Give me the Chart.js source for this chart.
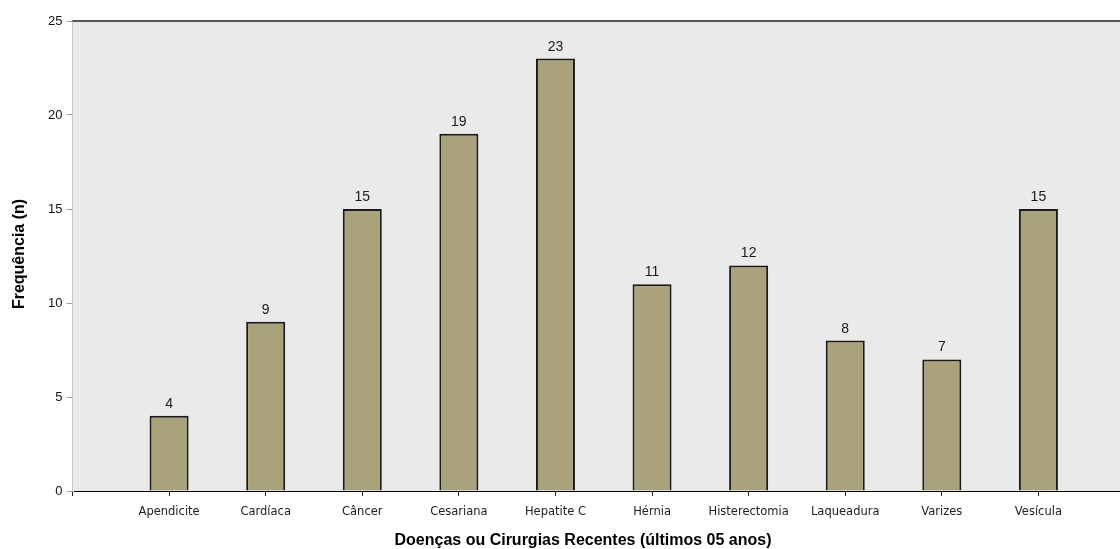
<!DOCTYPE html>
<html>
<head>
<meta charset="utf-8">
<script src="https://cdn.jsdelivr.net/npm/chart.js@4/dist/chart.umd.min.js"></script>
<style>
  html, body { margin: 0; padding: 0; background: #ffffff; overflow: hidden; }
  #wrap { position: relative; width: 1144px; height: 549px; }
</style>
</head>
<body>
<div id="wrap"><canvas id="chart" width="1144" height="549"></canvas></div>
<script>
// Doenças ou cirurgias recentes e suas frequências
const categories = ['Apendicite', 'Cardíaca', 'Câncer', 'Cesariana', 'Hepatite C',
                    'Hérnia', 'Histerectomia', 'Laqueadura', 'Varizes', 'Vesícula'];
const frequencies = [4, 9, 15, 19, 23, 11, 12, 8, 7, 15];
const yTicks = [0, 5, 10, 15, 20, 25];
const xTitle = 'Doenças ou Cirurgias Recentes (últimos 05 anos)';
const yTitle = 'Frequência (n)';

// blank slots at both ends keep each bar one full step away from the axes
const labels = [''].concat(categories, ['']);
const values = [null].concat(frequencies, [null]);

const plotFrame = {
  id: 'plotFrame',
  beforeDatasetsDraw(chart) {
    const { ctx, chartArea: a } = chart;
    ctx.save();
    ctx.fillStyle = '#eaeaea';
    ctx.fillRect(a.left, a.top, a.right - a.left, a.bottom - a.top);
    ctx.strokeStyle = '#555555';
    ctx.lineWidth = 2;
    ctx.beginPath();
    ctx.moveTo(a.left, a.top);
    ctx.lineTo(a.right, a.top);
    ctx.stroke();
    ctx.restore();
  },
  afterDraw(chart) {
    const { ctx } = chart;
    ctx.save();
    ctx.fillStyle = '#000000';
    ctx.font = 'bold 16px "Liberation Sans", Arial, sans-serif';
    ctx.textAlign = 'center';
    ctx.textBaseline = 'middle';
    ctx.fillText(xTitle, 583, 541);
    ctx.translate(20, 254);
    ctx.rotate(-Math.PI / 2);
    ctx.fillText(yTitle, 0, 0);
    ctx.restore();
  }
};

const valueLabels = {
  id: 'valueLabels',
  afterDatasetsDraw(chart) {
    const { ctx } = chart;
    const meta = chart.getDatasetMeta(0);
    ctx.save();
    ctx.fillStyle = '#1a1a1a';
    ctx.font = '14px "Liberation Sans", Arial, sans-serif';
    ctx.textAlign = 'center';
    ctx.textBaseline = 'alphabetic';
    meta.data.forEach((bar, i) => {
      const v = values[i];
      if (v === null) return;
      ctx.fillText(String(v), bar.x, bar.y - 8);
    });
    ctx.restore();
  }
};

new Chart(document.getElementById('chart'), {
  type: 'bar',
  data: {
    labels: labels,
    datasets: [{
      data: values,
      backgroundColor: '#a9a27a',
      borderColor: '#1a1a1a',
      borderWidth: 2,
      borderSkipped: 'bottom',
      barPercentage: 0.404,
      categoryPercentage: 1
    }]
  },
  options: {
    responsive: false,
    animation: false,
    layout: { padding: { top: 21, right: 1, left: 0, bottom: 0 } },
    plugins: {
      legend: { display: false },
      title: { display: false },
      tooltip: { enabled: false }
    },
    scales: {
      x: {
        offset: false,
        grid: {
          display: true,
          drawOnChartArea: false,
          drawTicks: true,
          tickLength: 5,
          color: '#222222',
          offset: false
        },
        border: { display: true, color: '#000000', width: 1 },
        ticks: {
          color: '#222222',
          font: { family: '"DejaVu Sans", Tahoma, sans-serif', size: 11.5 },
          padding: 9,
          maxRotation: 0,
          autoSkip: false
        },
        afterFit(scale) { scale.height = 58; }
      },
      y: {
        min: 0,
        max: 25,
        afterBuildTicks(scale) { scale.ticks = yTicks.map(v => ({ value: v })); },
        grid: {
          display: true,
          drawOnChartArea: false,
          drawTicks: true,
          tickLength: 6,
          color: '#a0a0a0'
        },
        border: { display: true, color: '#a0a0a0', width: 2 },
        ticks: {
          color: '#111111',
          font: { family: '"Liberation Sans Narrow", "Liberation Sans", Arial, sans-serif', size: 13 },
          padding: 4
        },
        afterFit(scale) { scale.width = 72.5; }
      }
    }
  },
  plugins: [plotFrame, valueLabels]
});
</script>
</body>
</html>
